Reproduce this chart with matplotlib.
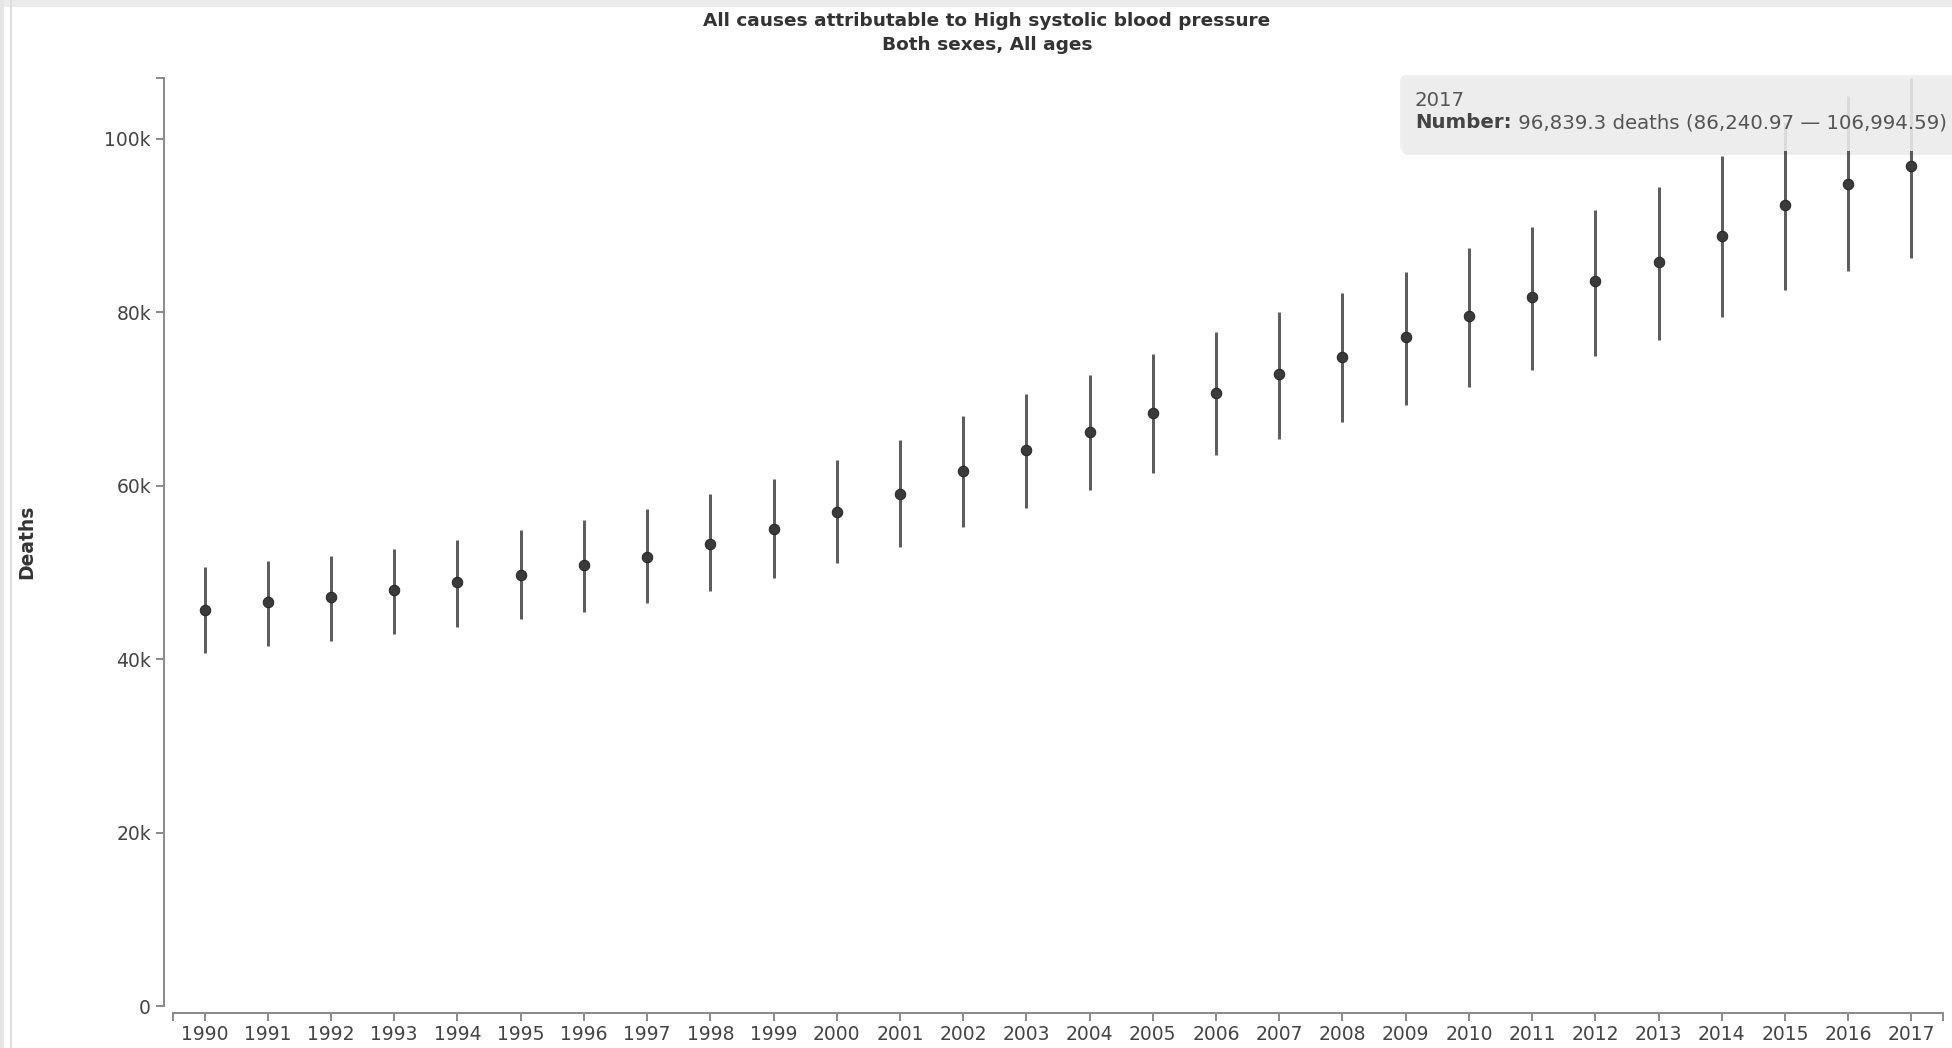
import numpy as np
import matplotlib.pyplot as plt
from matplotlib.patches import FancyBboxPatch, Rectangle
from matplotlib.lines import Line2D
from matplotlib.ticker import FuncFormatter, FixedLocator
from matplotlib.transforms import IdentityTransform

# deaths per year, in thousands
years = list(range(1990, 2018))
mean_k = [45.67, 46.56, 47.14, 47.94, 48.83, 49.71, 50.79, 51.82, 53.25, 54.98,
          56.94, 59.05, 61.74, 64.05, 66.20, 68.32, 70.67, 72.82, 74.82, 77.13,
          79.51, 81.78, 83.54, 85.73, 88.73, 92.31, 94.81, 96.8393]
lower_k = [40.68, 41.56, 42.10, 42.87, 43.68, 44.60, 45.48, 46.52, 47.90, 49.33,
           51.13, 52.90, 55.28, 57.47, 59.44, 61.46, 63.55, 65.36, 67.28, 69.32,
           71.37, 73.36, 74.97, 76.82, 79.43, 82.58, 84.70, 86.24097]
upper_k = [50.60, 51.36, 51.94, 52.71, 53.75, 54.86, 56.09, 57.29, 58.98, 60.78,
           62.98, 65.28, 68.05, 70.59, 72.78, 75.12, 77.66, 80.01, 82.20, 84.62,
           87.39, 89.77, 91.81, 94.46, 98.04, 101.8, 104.9, 106.99459]
y_ticks = [0, 20000, 40000, 60000, 80000, 100000]

title_1 = "All causes attributable to High systolic blood pressure"
title_2 = "Both sexes, All ages"
y_label = "Deaths"
tip_year = "2017"
tip_label = "Number:"
tip_text = " 96,839.3 deaths (86,240.97 \u2014 106,994.59)"

W, H = 1952, 1048
PT = 72 / 100  # points per pixel

mean = np.array(mean_k) * 1000
lower = np.array(lower_k) * 1000
upper = np.array(upper_k) * 1000
ymax = upper.max()

fig = plt.figure(figsize=(W / 100, H / 100), dpi=100)
fig.patch.set_facecolor('white')

def fx(x):
    return x / W

def fy(y):
    return 1 - y / H

ax = fig.add_axes([fx(173), fy(1006), (1943 - 173) / W, (1006 - 78) / H])
ax.set_xlim(years[0] - 0.5, years[-1] + 0.5)
ax.set_ylim(0, ymax)

ax.vlines(years, lower, upper, color='#5e5e5e', lw=3 * PT, clip_on=False, zorder=2)
ax.plot(years, mean, 'o', ms=10.5 * PT, mfc='#3a3a3a', mec='#262626', mew=1 * PT,
        clip_on=False, zorder=3)

for s in ['top', 'right']:
    ax.spines[s].set_visible(False)
for s in ['left', 'bottom']:
    ax.spines[s].set_color('#8c8c8c')
    ax.spines[s].set_linewidth(2 * PT)
ax.spines['left'].set_position(('outward', 9 * PT))
ax.spines['bottom'].set_position(('outward', 7 * PT))

ax.set_xticks(years)
ax.set_xticklabels([str(y) for y in years])
ax.xaxis.set_minor_locator(FixedLocator([years[0] - 0.5, years[-1] + 0.5]))
ax.set_yticks(y_ticks)
ax.yaxis.set_major_formatter(FuncFormatter(lambda v, p: '0' if v == 0 else '%dk' % (v / 1000)))
ax.yaxis.set_minor_locator(FixedLocator([ymax]))
ax.tick_params(axis='both', which='both', length=8 * PT, width=2 * PT, color='#8c8c8c',
               labelcolor='#444444', labelsize=13.5, direction='out')
ax.tick_params(axis='x', which='major', pad=4 * PT)
ax.tick_params(axis='y', which='major', pad=5 * PT)

fig.text(fx(27), fy(542), y_label, rotation=90, ha='center', va='center',
         fontsize=13.5, fontweight='bold', color='#333333')

fig.text(fx(987), fy(21), title_1, ha='center', va='center', fontsize=13.3,
         fontweight='bold', color='#333333')
fig.text(fx(987), fy(45), title_2, ha='center', va='center', fontsize=13.3,
         fontweight='bold', color='#333333')

# page chrome
fig.add_artist(Rectangle((0, H - 7), W, 7, transform=IdentityTransform(),
                         facecolor='#ebebeb', edgecolor='none'))
fig.add_artist(Rectangle((0, 0), 4, H, transform=IdentityTransform(),
                         facecolor='#e6e6e6', edgecolor='none'))
fig.add_artist(Line2D([11, 11], [0, H], transform=IdentityTransform(),
                      color='#dedede', lw=2 * PT))

# hover tooltip
tx0, ty_top, ty_bot = 1400, 75, 151
fig.add_artist(FancyBboxPatch((tx0 + 2, H - ty_bot - 4), 700, ty_bot - ty_top,
                              boxstyle='round,pad=0,rounding_size=6',
                              transform=IdentityTransform(), facecolor='black',
                              edgecolor='none', alpha=0.07, zorder=4))
fig.add_artist(FancyBboxPatch((tx0, H - ty_bot), 700, ty_bot - ty_top,
                              boxstyle='round,pad=0,rounding_size=6',
                              transform=IdentityTransform(), facecolor='#ededed',
                              edgecolor='none', alpha=0.88, zorder=5))
fig.text(fx(1415), fy(100), tip_year, ha='left', va='center', fontsize=14.2,
         color='#555555', zorder=6)
lab = fig.text(fx(1415), fy(123), tip_label, ha='left', va='center', fontsize=14.2,
               fontweight='bold', color='#444444', zorder=6)
fig.canvas.draw()
bb = lab.get_window_extent()
fig.text(bb.x1 / W, fy(123), tip_text, ha='left', va='center', fontsize=14.2,
         color='#555555', zorder=6)

fig.savefig('out.png', dpi=100)
